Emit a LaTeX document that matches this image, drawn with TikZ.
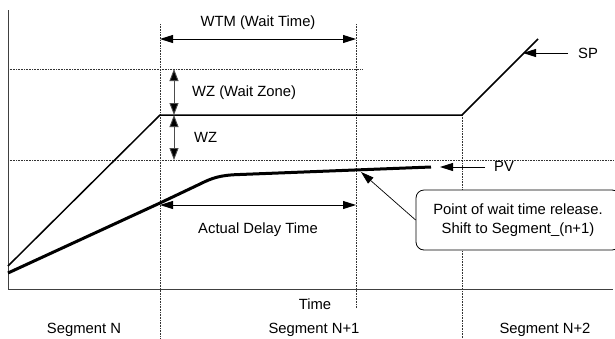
\documentclass[tikz,border=0pt]{standalone}
\usepackage{fontspec}
\setmainfont{Liberation Sans}
\usetikzlibrary{arrows.meta}
\begin{document}
\begin{tikzpicture}[x=1pt,y=-1pt,
  lbl/.style={font=\fontsize{14.8}{17}\selectfont, inner sep=0pt},
  guide/.style={densely dotted, line width=0.6pt, black!80},
  axisline/.style={line width=0.9pt, black!75},
  dim/.style={line width=0.9pt, {Triangle[length=13pt,width=8pt]}-{Triangle[length=13pt,width=8pt]}},
  vdim/.style={line width=0.9pt, black!70, {Triangle[length=12pt,width=9pt,fill=black]}-{Triangle[length=12pt,width=9pt,fill=black]}},
  pointer/.style={line width=0.9pt, -{Triangle[length=13pt,width=8pt]}},
  thinpointer/.style={line width=0.7pt, -{Triangle[length=13pt,width=8pt]}},
  sp/.style={line width=1.5pt},
  pv/.style={line width=3pt},
  callout/.style={draw, line width=0.8pt, rounded corners=8pt, fill=white, minimum width=204pt, minimum height=60pt, align=center, font=\fontsize{14.8}{19}\selectfont}
]
\useasboundingbox (0,0) rectangle (615,338);
% guides
\draw[guide] (160,24) -- (160,338);
\draw[guide] (356,24) -- (356,308);
\draw[guide] (462,115) -- (462,338);
\draw[guide] (8,69) -- (363,69);
\draw[guide] (8,160) -- (613,160);
% axes
\draw[axisline] (8,10) -- (8,289) -- (613,289);
% SP
\coordinate (sp0) at (8,266);
\coordinate (sp1) at (160,115);
\coordinate (sp2) at (462,115);
\coordinate (sp3) at (538,39);
\draw[sp] (sp0) -- (sp1) -- (sp2) -- (sp3);
% PV
\coordinate (pv0) at (8,273);
\coordinate (pvend) at (431,167);
\draw[pv, line cap=butt] (pv0) -- (160,203) -- (200,184) .. controls (212,178) and (220,175) .. (240,174.5) -- (pvend);
% dimension arrows
\coordinate (wtmL) at (160,39); \coordinate (wtmR) at (356,39);
\draw[dim] (wtmL) -- (wtmR);
\node[lbl] (wtm) at (258,23) {WTM (Wait Time)};
\coordinate (wz1a) at (174,69); \coordinate (wz1b) at (174,115);
\draw[vdim] (wz1a) -- (wz1b);
\node[lbl, anchor=west] (wzz) at (192,93) {WZ (Wait Zone)};
\coordinate (wz2a) at (174,115); \coordinate (wz2b) at (174,160);
\draw[vdim] (wz2a) -- (wz2b);
\node[lbl, anchor=west] (wz) at (194,137) {WZ};
\coordinate (adL) at (160,205); \coordinate (adR) at (356,205);
\draw[dim] (adL) -- (adR);
\node[lbl] (adt) at (258,230) {Actual Delay Time};
% SP / PV pointers
\node[lbl, anchor=west] (splbl) at (578,53) {SP};
\coordinate (sptail) at (568,53); \coordinate (sptip) at (523,53);
\draw[pointer] (sptail) -- (sptip);
\node[lbl, anchor=west] (pvlbl) at (494,166) {PV};
\coordinate (pvtail) at (485,167); \coordinate (pvtip) at (440,167);
\draw[pointer] (pvtail) -- (pvtip);
% callout
\node[callout] (call) at (518,220) {Point of wait time release.\\Shift to Segment\_(n+1)};
\coordinate (reltip) at (361,172);
\draw[thinpointer] (call.west) -- (reltip);
% bottom labels
\node[lbl] (time) at (315,304) {Time};
\node[lbl] (segN) at (84,330) {Segment N};
\node[lbl] (segN1) at (314,330) {Segment N+1};
\node[lbl] (segN2) at (545,330) {Segment N+2};
\end{tikzpicture}
\end{document}
